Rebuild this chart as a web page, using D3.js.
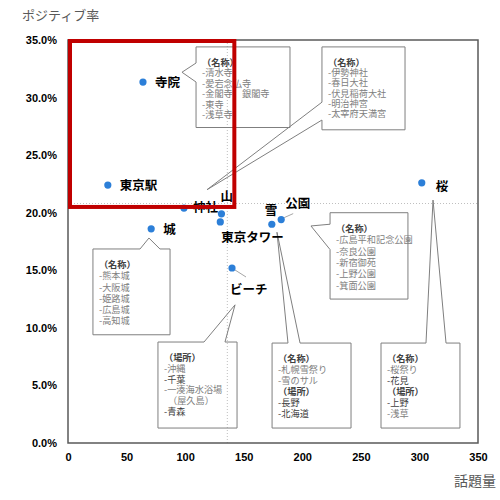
<!DOCTYPE html>
<html>
<head>
<meta charset="utf-8">
<script src="https://cdn.jsdelivr.net/npm/d3@7"></script>
<style>
  body { margin: 0; background: #fff; }
  svg { font-family: "Noto Sans CJK JP", "Noto Sans", sans-serif; }
  .tick text { font-family: "Liberation Sans", Arial, sans-serif; font-weight: bold; font-size: 11px; fill: #000; }
</style>
</head>
<body>
<div id="chart"></div>
<script>
// data
const names    = ["寺院", "東京駅", "神社", "山", "東京タワー", "雪", "公園", "城", "ビーチ", "桜"];
const volume   = [64, 34, 99, 131, 130, 174, 182, 71, 140, 302];          // 話題量
const positive = [31.35, 22.4, 20.4, 19.9, 19.2, 19.0, 19.4, 18.6, 15.2, 22.6]; // ポジティブ率 (%)

const xTicks = [0, 50, 100, 150, 200, 250, 300, 350];
const yTicks = [0, 5, 10, 15, 20, 25, 30, 35];

// dotted reference lines
const refVolume = 136;
const refPositive = 20.8;

// highlighted quadrant (data units)
const highlight = { x0: 0, x1: 142, y0: 20.5, y1: 35 };

// label offsets in px from the point
const labelOffsets = [[12, 0], [12, 0], [9, -1], [-1, -18], [1, 15], [-7, -14], [4, -17], [12, 0], [-2, 21], [14, 3]];
const leaders = { "公園": [12, -6], "ビーチ": [14, 9] };

// callout boxes (data units); wedge = base on one side + tip
const callouts = [
  { box: [109.3, 189.5, 34.4, 27.4], side: "left", base: [33.0, 31.35], tip: [97.3, 32.2],
    lines: [["h", "（名称）"], ["i", "-清水寺"], ["i", "-愛宕念仏寺"], ["i", "-金閣寺、銀閣寺"], ["i", "-東寺"], ["i", "-浅草寺"]], gap: 10.4 },
  { box: [216.8, 287.7, 34.4, 27.2], side: "left", base: [29.6, 28.05], tip: [118.7, 22.0],
    lines: [["h", "（名称）"], ["i", "-伊勢神社"], ["i", "-春日大社"], ["i", "-伏見稲荷大社"], ["i", "-明治神宮"], ["i", "-太宰府天満宮"]], gap: 10.2 },
  { box: [223.7, 290.2, 20.0, 12.5], side: "left", base: [19.0, 16.8], tip: [207.4, 18.85],
    lines: [["h", "（名称）"], ["i", "-広島平和記念公園"], ["i", "-奈良公園"], ["i", "-新宿御苑"], ["i", "-上野公園"], ["i", "-箕面公園"]], gap: 11.4 },
  { box: [21.3, 87.1, 16.85, 9.4], side: "top", base: [61.5, 78.5], tip: [69.1, 17.8],
    lines: [["h", "（名称）"], ["i", "-熊本城"], ["i", "-大阪城"], ["i", "-姫路城"], ["i", "-広島城"], ["i", "-高知城"]], gap: 11.3 },
  { box: [76.8, 144.3, 8.77, 1.3], side: "top", base: [116.1, 134.0], tip: [142.6, 12.0],
    lines: [["h", "（場所）"], ["i", "-沖縄"], ["d", "-千葉"], ["i", "-一湊海水浴場"], ["c", "（屋久島）"], ["d", "-青森"]], gap: 10.8 },
  { box: [174.2, 241.6, 8.68, 1.3], side: "top", base: [187.8, 198.1], tip: [178.4, 18.3],
    lines: [["h", "（名称）"], ["i", "-札幌雪祭り"], ["i", "-雪のサル"], ["h", "（場所）"], ["d", "-長野"], ["d", "-北海道"]], gap: 11 },
  { box: [267.2, 334.6, 8.68, 1.3], side: "top", base: [305.6, 322.7], tip: [311.6, 21.1],
    lines: [["h", "（名称）"], ["i", "-桜祭り"], ["d", "-花見"], ["h", "（場所）"], ["d", "-上野"], ["i", "-浅草"]], gap: 11 }
];

const W = 500, H = 500;
const svg = d3.select("#chart").append("svg")
  .attr("width", W).attr("height", H);

const x = d3.scaleLinear().domain([0, 350]).range([68, 478]);
const y = d3.scaleLinear().domain([0, 35]).range([443, 40]);

// axes
svg.append("g")
  .attr("transform", "translate(68,0)")
  .call(d3.axisLeft(y).tickValues(yTicks).tickSize(0).tickPadding(11).tickFormat(d => d.toFixed(1) + "%"))
  .call(g => g.select(".domain").remove());

svg.append("g")
  .attr("transform", "translate(0,443)")
  .call(d3.axisBottom(x).tickValues(xTicks).tickSize(0).tickPadding(10))
  .call(g => g.select(".domain").remove());

// reference lines
svg.append("line")
  .attr("x1", x(0)).attr("x2", x(350)).attr("y1", y(refPositive)).attr("y2", y(refPositive))
  .attr("stroke", "#bfbfbf").attr("stroke-dasharray", "1,2");
svg.append("line")
  .attr("x1", x(refVolume)).attr("x2", x(refVolume)).attr("y1", y(0)).attr("y2", y(35))
  .attr("stroke", "#bfbfbf").attr("stroke-dasharray", "1,2");

// frame
svg.append("rect")
  .attr("x", x(0)).attr("y", y(35))
  .attr("width", x(350) - x(0)).attr("height", y(0) - y(35))
  .attr("fill", "none").attr("stroke", "#595959").attr("stroke-width", 1.5);

// callouts
callouts.forEach(c => {
  const x0 = x(c.box[0]), x1 = x(c.box[1]), t = y(c.box[2]), b = y(c.box[3]);
  const tx = x(c.tip[0]), ty = y(c.tip[1]);
  let p;
  if (c.side === "left") {
    const a1 = y(c.base[0]), a2 = y(c.base[1]);
    p = `M${x0},${t}L${x1},${t}L${x1},${b}L${x0},${b}L${x0},${a2}L${tx},${ty}L${x0},${a1}Z`;
  } else {
    const a1 = x(c.base[0]), a2 = x(c.base[1]);
    p = `M${x0},${t}L${a1},${t}L${tx},${ty}L${a2},${t}L${x1},${t}L${x1},${b}L${x0},${b}Z`;
  }
  svg.append("path").attr("d", p)
    .attr("fill", "none").attr("stroke", "#7f7f7f").attr("stroke-width", 1);

  c.lines.forEach((ln, i) => {
    svg.append("text")
      .attr("x", x0 + (ln[0] === "c" ? 10 : 6))
      .attr("y", t + 19 + i * c.gap)
      .attr("font-size", 9.2)
      .attr("font-weight", ln[0] === "h" ? "bold" : "normal")
      .attr("fill", ln[0] === "h" ? "#404040" : (ln[0] === "d" ? "#404040" : "#808080"))
      .text(ln[1]);
  });
});

// points
const pts = names.map((n, i) => ({ name: n, v: volume[i], p: positive[i], off: labelOffsets[i] }));

pts.filter(d => leaders[d.name]).forEach(d => {
  const l = leaders[d.name];
  svg.append("line")
    .attr("x1", x(d.v) + 3).attr("y1", y(d.p) + (l[1] > 0 ? 2 : -2))
    .attr("x2", x(d.v) + l[0]).attr("y2", y(d.p) + l[1])
    .attr("stroke", "#a6a6a6").attr("stroke-width", 1);
});

svg.selectAll("circle.pt")
  .data(pts)
  .enter()
  .append("circle")
  .attr("class", "pt")
  .attr("cx", d => x(d.v))
  .attr("cy", d => y(d.p))
  .attr("r", 3.6)
  .attr("fill", "#2c7fd8");

svg.selectAll("text.lbl")
  .data(pts)
  .enter()
  .append("text")
  .attr("class", "lbl")
  .attr("x", d => x(d.v) + d.off[0])
  .attr("y", d => y(d.p) + d.off[1] + 5)
  .attr("font-size", 12.5)
  .attr("font-weight", "bold")
  .attr("fill", "#000")
  .text(d => d.name);

// highlight rectangle
svg.append("rect")
  .attr("x", x(highlight.x0) + 2).attr("y", y(highlight.y1) + 1)
  .attr("width", x(highlight.x1) - x(highlight.x0) - 2)
  .attr("height", y(highlight.y0) - y(highlight.y1) - 1)
  .attr("fill", "none").attr("stroke", "#c00000").attr("stroke-width", 4);

// axis titles
svg.append("text")
  .attr("x", 22).attr("y", 20)
  .attr("font-size", 13).attr("fill", "#595959")
  .text("ポジティブ率");
svg.append("text")
  .attr("x", 496).attr("y", 486).attr("text-anchor", "end")
  .attr("font-size", 14).attr("fill", "#595959")
  .text("話題量");
</script>
</body>
</html>
